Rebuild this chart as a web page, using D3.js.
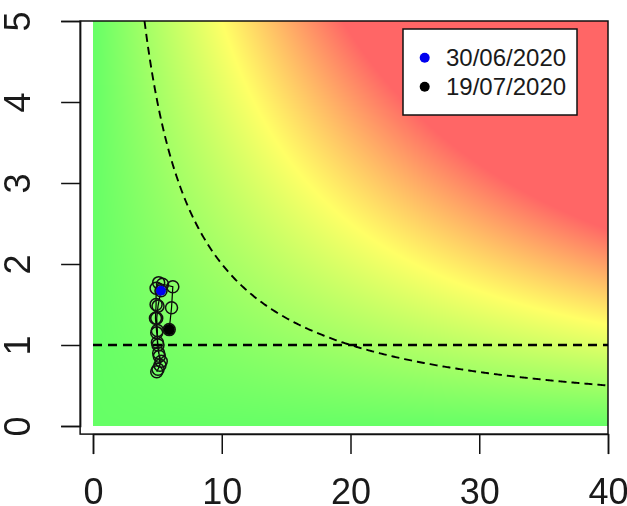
<!DOCTYPE html>
<html>
<head>
<meta charset="utf-8">
<script src="https://cdn.jsdelivr.net/npm/d3@7"></script>
<style>
  html, body { margin: 0; padding: 0; background: #ffffff; }
  #wrap { position: relative; width: 627px; height: 506px; }
  canvas, svg { position: absolute; left: 0; top: 0; }
  text { font-family: "Liberation Sans", Arial, sans-serif; fill: #1a1a1a; }
</style>
</head>
<body>
<div id="wrap"></div>
<script>
// ---- data ----
const xTicks = [0, 10, 20, 30, 40];
const yTicks = [0, 1, 2, 3, 4, 5];
// trajectory (attack rate, rho) from 30/06/2020 to 19/07/2020
const trajX = [5.28, 5.05, 4.95, 5.00, 5.00, 5.10, 5.30, 5.05, 4.95, 5.20, 5.15, 5.05, 4.95, 4.85, 4.90, 4.90, 5.10, 5.40, 6.20, 6.10, 5.92];
const trajY = [1.67, 1.48, 1.33, 1.18, 1.03, 0.90, 0.80, 0.70, 0.67, 0.75, 0.86, 1.00, 1.15, 1.33, 1.50, 1.70, 1.77, 1.75, 1.72, 1.46, 1.19];
const legendLabels = ["30/06/2020", "19/07/2020"];
const legendColors = ["#0000ee", "#000000"];
const curveLevel = 20;     // dashed curve x*y = 20
const hLevel = 1;          // dashed horizontal line y = 1
const colorStops = [0, 50, 97];
const colorRange = ["#66ff66", "#ffff66", "#ff6666"];

// ---- layout ----
const W = 627, H = 506;
const x = d3.scaleLinear().domain([0, 40]).range([93, 608]);
const y = d3.scaleLinear().domain([0, 5]).range([426, 21]);
const color = d3.scaleLinear().domain(colorStops).range(colorRange).clamp(true);
const FONT = "'Liberation Sans', Arial, sans-serif";

const wrap = d3.select("#wrap");

// heatmap on canvas
const canvas = wrap.append("canvas").attr("width", W).attr("height", H).node();
const ctx = canvas.getContext("2d");
const x0 = Math.round(x(0)), x1 = Math.round(x(40)), y0 = Math.round(y(5)), y1 = Math.round(y(0));
const img = ctx.createImageData(x1 - x0, y1 - y0);
for (let py = y0; py < y1; py++) {
  const vy = y.invert(py + 0.5);
  for (let px = x0; px < x1; px++) {
    const vx = x.invert(px + 0.5);
    const c = d3.rgb(color(vx * vy));
    const i = ((py - y0) * (x1 - x0) + (px - x0)) * 4;
    img.data[i] = c.r; img.data[i + 1] = c.g; img.data[i + 2] = c.b; img.data[i + 3] = 255;
  }
}
ctx.putImageData(img, x0, y0);

const svg = wrap.append("svg").attr("width", W).attr("height", H);

// box
svg.append("rect")
  .attr("x", x(-1)).attr("y", y(5))
  .attr("width", x(40) - x(-1)).attr("height", y(-0.1) - y(5))
  .attr("fill", "none").attr("stroke", "#111").attr("stroke-width", 1.5);

// dashed horizontal line
svg.append("line")
  .attr("x1", x(0)).attr("x2", x(40)).attr("y1", y(hLevel)).attr("y2", y(hLevel))
  .attr("stroke", "#000").attr("stroke-width", 2.5).attr("stroke-dasharray", "9,6");

// dashed curve x*y = curveLevel
const curvePts = d3.range(curveLevel / 5, 40.0001, 0.1).map(v => [v, curveLevel / v]);
svg.append("path")
  .attr("d", d3.line().x(d => x(d[0])).y(d => y(d[1]))(curvePts))
  .attr("fill", "none").attr("stroke", "#000").attr("stroke-width", 1.9)
  .attr("stroke-dasharray", "8,5");

// trajectory
const pts = trajX.map((v, i) => [v, trajY[i]]);
svg.append("path")
  .attr("d", d3.line().x(d => x(d[0])).y(d => y(d[1]))(pts))
  .attr("fill", "none").attr("stroke", "#000").attr("stroke-width", 1.2);
svg.selectAll("circle.pt").data(pts).enter().append("circle")
  .attr("class", "pt")
  .attr("cx", d => x(d[0])).attr("cy", d => y(d[1])).attr("r", 6)
  .attr("fill", "none").attr("stroke", "#111").attr("stroke-width", 1.5);
svg.append("circle").attr("cx", x(pts[0][0])).attr("cy", y(pts[0][1])).attr("r", 5)
  .attr("fill", legendColors[0]);
svg.append("circle").attr("cx", x(pts[pts.length - 1][0])).attr("cy", y(pts[pts.length - 1][1])).attr("r", 5.5)
  .attr("fill", legendColors[1]);

// axes
const xAxisG = svg.append("g").attr("transform", `translate(0,${y(-0.1)})`)
  .call(d3.axisBottom(x).tickValues(xTicks).tickSize(20).tickPadding(24).tickFormat(d3.format("d")));
xAxisG.select(".domain").attr("stroke", "#111").attr("stroke-width", 1.5);
xAxisG.selectAll(".tick line").attr("stroke", "#111").attr("stroke-width", 1.5);
xAxisG.selectAll(".tick text").attr("font-size", 36).attr("fill", "#1a1a1a")
  .attr("font-family", FONT);

const yAxisG = svg.append("g").attr("transform", `translate(${x(-1)},0)`)
  .call(d3.axisLeft(y).tickValues(yTicks).tickSize(19).tickPadding(0).tickFormat(d3.format("d")));
yAxisG.select(".domain").attr("stroke", "#111").attr("stroke-width", 1.5);
yAxisG.selectAll(".tick line").attr("stroke", "#111").attr("stroke-width", 1.5);
yAxisG.selectAll(".tick text")
  .attr("font-size", 36).attr("fill", "#1a1a1a")
  .attr("font-family", FONT)
  .attr("text-anchor", "middle")
  .attr("x", 0).attr("dy", 0)
  .attr("transform", "translate(-50,0) rotate(-90)");

// legend
const lg = svg.append("g");
lg.append("rect").attr("x", 403).attr("y", 29).attr("width", 174).attr("height", 86)
  .attr("fill", "#fff").attr("stroke", "#111").attr("stroke-width", 1.5);
legendLabels.forEach((lab, i) => {
  const cy = 57.7 + i * 29;
  lg.append("circle").attr("cx", 424.7).attr("cy", cy).attr("r", 5).attr("fill", legendColors[i]);
  lg.append("text").attr("x", 446).attr("y", cy).attr("dy", "0.36em")
    .attr("font-size", 24).attr("font-family", FONT).text(lab);
});
</script>
</body>
</html>
